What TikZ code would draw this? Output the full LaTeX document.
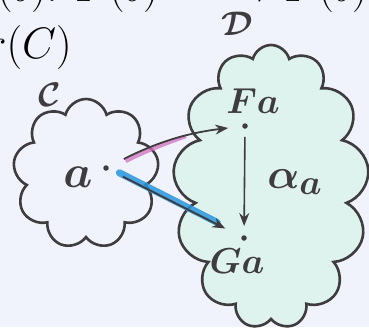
\documentclass[tikz,border=0pt]{standalone}
\usepackage{graphicx}
\usetikzlibrary{shapes.symbols,arrows.meta}
\definecolor{paper}{RGB}{240,243,251}
\definecolor{ink}{RGB}{62,60,62}
\definecolor{wash}{RGB}{222,243,238}
\definecolor{pinkhl}{RGB}{208,112,192}
\definecolor{bluehl}{RGB}{38,150,222}
\newcommand{\lab}[2][1.37]{\scalebox{#1}{$#2$}}
\tikzset{
  blob/.style={cloud,cloud ignores aspect,draw=ink,line width=2.6pt,inner sep=0pt},
  pt/.style={circle,fill=ink,inner sep=0pt,minimum size=5.5pt},
  lbl/.style={text=ink,inner sep=0pt,font=\Huge\boldmath},
  head/.style={inner sep=0pt,font=\Huge},
}
\begin{document}
\begin{tikzpicture}[x=1pt,y=-1pt,>={Stealth[length=13pt,width=10pt]}]
\useasboundingbox[fill=paper] (0,0) rectangle (369,327);
% lines of the slide, cut off by the frame
\node[head,anchor=base west] (t1) at (-3,1) {\lab[1.77]{(b)\colon}};
\node[head,anchor=base west] (t2) at (75,1) {\lab[1.77]{F(b)}};
\node[head,anchor=base east] (t3) at (368,1) {\lab[1.77]{\to F(b)}};
\node[head,anchor=base east] (t4) at (72,58) {\lab[1.77]{r(C)}};
% the two categories
\node[blob,cloud puffs=9,minimum width=146pt,minimum height=150pt] (C) at (86,174) {};
\node[blob,cloud puffs=13,fill=wash,minimum width=196pt,minimum height=284pt] (D) at (271,187) {};
\node[lbl] (lC) at (50,95) {\lab{\mathcal{C}}};
\node[lbl] (lD) at (237,24) {\lab{\mathcal{D}}};
% objects
\node[pt] (a) at (106,168) {};
\node[pt] (Fa) at (245,126) {};
\node[pt] (Ga) at (244,238) {};
\node[lbl] (la) at (78,177) {\lab[1.85]{a}};
\node[lbl] (lFa) at (253,101) {\lab[1.45]{Fa}};
\node[lbl] (lGa) at (237,261) {\lab[1.45]{Ga}};
% arrows
\draw[pinkhl,line width=4pt,opacity=.75,shorten <=22pt,shorten >=60pt]
  ([yshift=-3pt]a.center) to[bend left=10] ([yshift=-3pt]Fa.center);
\draw[->,ink,line width=1.8pt,shorten <=17pt,shorten >=14pt] (a) to[bend left=10] (Fa);
\draw[bluehl,line width=7pt,opacity=.85,line cap=round,shorten <=15pt,shorten >=30pt]
  ([yshift=2pt]a.center) -- ([yshift=2pt]Ga.center);
\draw[->,ink,line width=1.8pt,shorten <=16pt,shorten >=18pt] (a) -- (Ga);
\draw[->,ink,line width=1.6pt,shorten <=8pt,shorten >=9pt] (Fa) -- node[lbl,right=22pt] (alpha) {\lab[1.7]{\alpha_a}} (Ga);
\end{tikzpicture}
\end{document}
